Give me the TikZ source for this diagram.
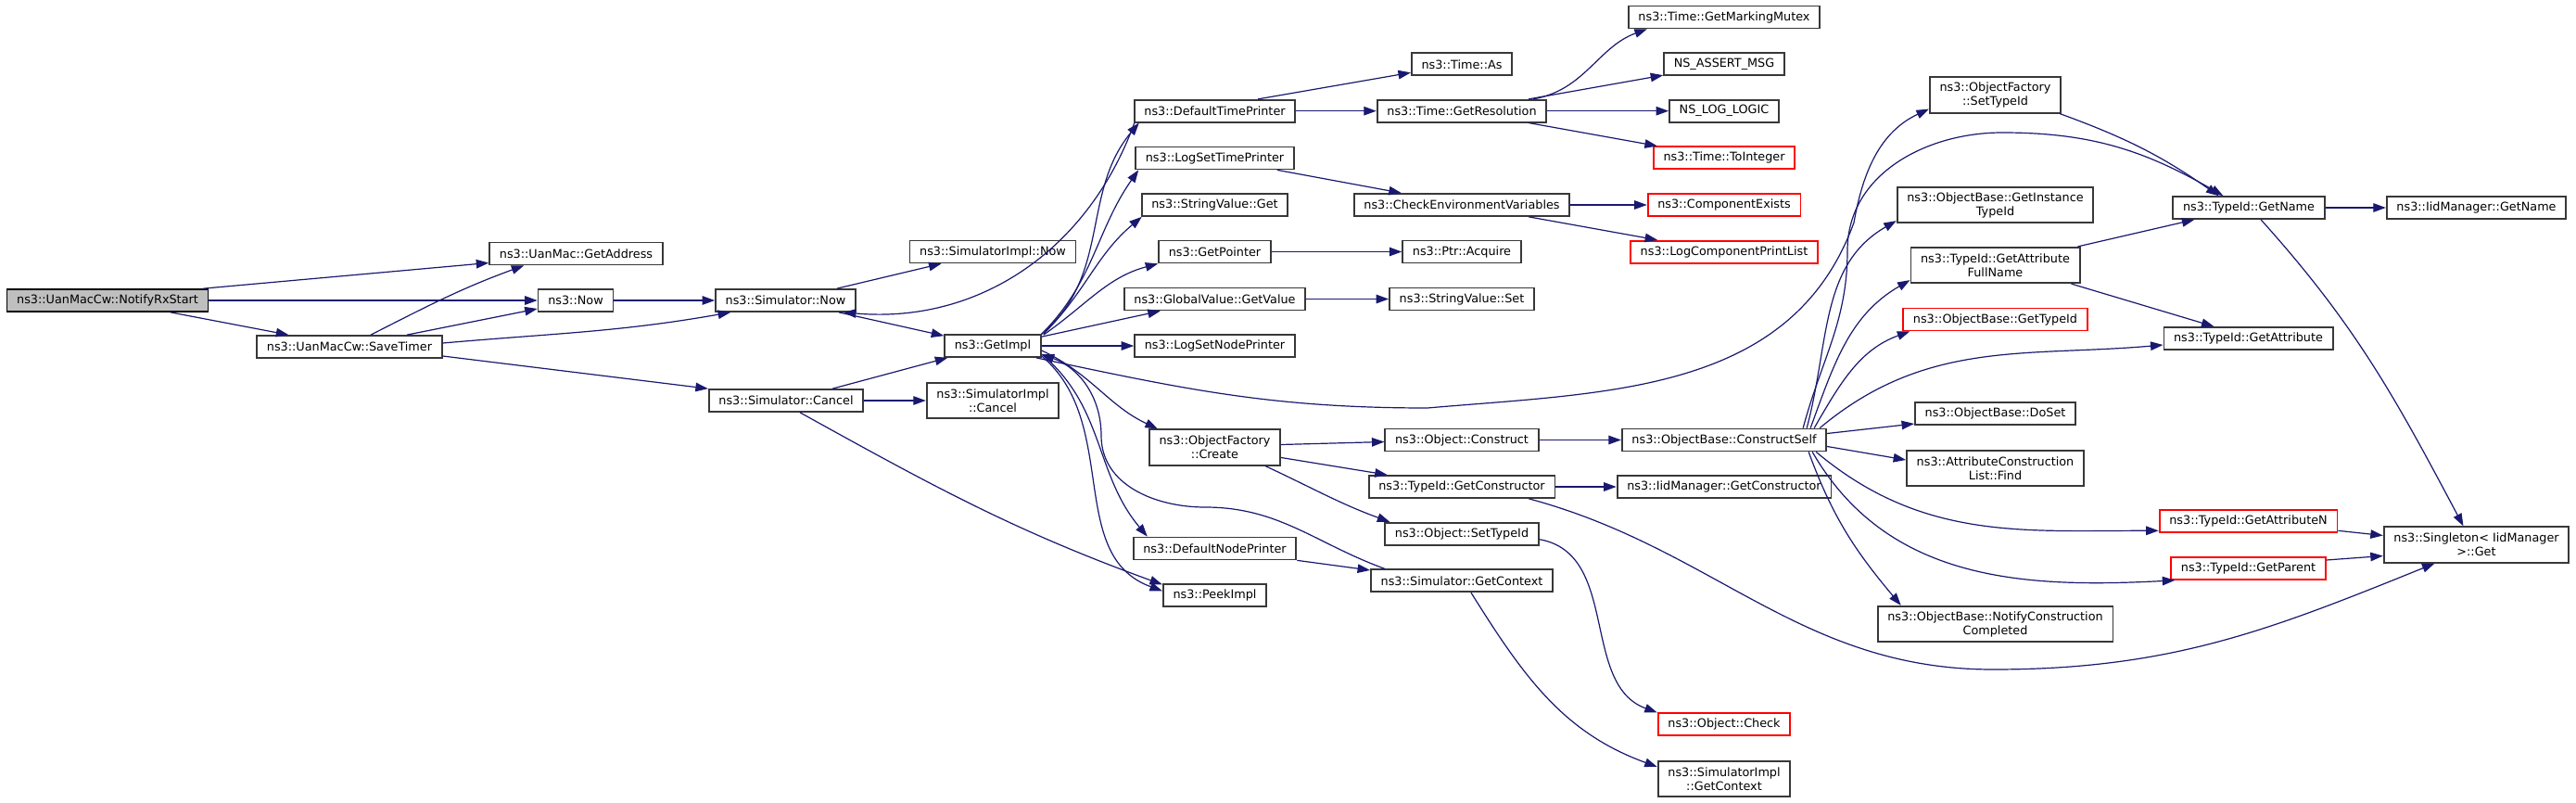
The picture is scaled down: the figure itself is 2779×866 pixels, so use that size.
\documentclass[tikz,border=0pt]{standalone}
\usepackage{fontspec}
\setmainfont{DejaVu Sans}
\usetikzlibrary{arrows.meta}
\definecolor{callblue}{HTML}{191970}
\definecolor{boxgray}{HTML}{383838}
\definecolor{rootgray}{HTML}{BFBFBF}
\definecolor{missred}{HTML}{FF0000}

\begin{document}
\begin{tikzpicture}[x=1pt,y=1pt,
  fn/.style={draw=boxgray,line width=1.8pt,fill=white,inner xsep=10.7pt,inner ysep=0pt,
    minimum height=23.9pt,font=\fontsize{12.8}{15}\selectfont},
  fntwo/.style={fn,align=center,minimum height=38.4pt},
  fnred/.style={fn,draw=missred},
  fnroot/.style={fn,draw=black,fill=rootgray},
  call/.style={draw=callblue,line width=1.2pt,-{Triangle[length=13.5pt,width=9.5pt]}}]
  \useasboundingbox[fill=white] (0,0) rectangle (2779,-866);

  % caller
  \node[fnroot] (nRx) at (116,-324) {ns3::UanMacCw::NotifyRxStart};
  \node[fn] (nSave) at (377,-374) {ns3::UanMacCw::SaveTimer};
  \node[fn] (nAddr) at (621.5,-273.5) {ns3::UanMac::GetAddress};
  \node[fn] (nNow) at (621,-324) {ns3::Now};

  % simulator
  \node[fn] (nSimNow) at (847.5,-324) {ns3::Simulator::Now};
  \node[fn] (nSimCancel) at (848,-432) {ns3::Simulator::Cancel};
  \node[fn] (nImplNow) at (1071,-271.5) {ns3::SimulatorImpl::Now};
  \node[fn] (nGetImpl) at (1071,-373) {ns3::GetImpl};
  \node[fntwo] (nImplCancel) at (1071,-432) {ns3::SimulatorImpl\\::Cancel};

  % callees of GetImpl
  \node[fn] (nDTP) at (1310.5,-119.7) {ns3::DefaultTimePrinter};
  \node[fn] (nLSTP) at (1310.5,-170.5) {ns3::LogSetTimePrinter};
  \node[fn] (nSVGet) at (1310.5,-221) {ns3::StringValue::Get};
  \node[fn] (nGetPtr) at (1310.5,-271.5) {ns3::GetPointer};
  \node[fn] (nGVGet) at (1310.5,-322.5) {ns3::GlobalValue::GetValue};
  \node[fn] (nLSNP) at (1310.5,-373) {ns3::LogSetNodePrinter};
  \node[fntwo] (nOFCreate) at (1310.5,-482.5) {ns3::ObjectFactory\\::Create};
  \node[fn] (nDNP) at (1310.5,-591.5) {ns3::DefaultNodePrinter};
  \node[fn] (nPeek) at (1310.5,-642.3) {ns3::PeekImpl};

  % next column
  \node[fn] (nTimeAs) at (1577,-69.3) {ns3::Time::As};
  \node[fn] (nGetRes) at (1577,-119.7) {ns3::Time::GetResolution};
  \node[fn] (nCEV) at (1577,-221) {ns3::CheckEnvironmentVariables};
  \node[fn] (nAcquire) at (1577,-271.5) {ns3::Ptr::Acquire};
  \node[fn] (nSVSet) at (1577,-322.5) {ns3::StringValue::Set};
  \node[fn] (nConstruct) at (1577,-474.5) {ns3::Object::Construct};
  \node[fn] (nGetCtor) at (1577,-525) {ns3::TypeId::GetConstructor};
  \node[fn] (nSetTid) at (1577,-575.7) {ns3::Object::SetTypeId};
  \node[fn] (nGetCtx) at (1577,-626.3) {ns3::Simulator::GetContext};

  \node[fn] (nMutex) at (1860,-18.5) {ns3::Time::GetMarkingMutex};
  \node[fn] (nAssert) at (1860,-69.3) {NS\_ASSERT\_MSG};
  \node[fn] (nLogic) at (1860,-119.7) {NS\_LOG\_LOGIC};
  \node[fnred] (nToInt) at (1860,-170.3) {ns3::Time::ToInteger};
  \node[fnred] (nCompEx) at (1860,-221) {ns3::ComponentExists};
  \node[fnred] (nLCPL) at (1860,-271.7) {ns3::LogComponentPrintList};
  \node[fn] (nCSelf) at (1860,-474.5) {ns3::ObjectBase::ConstructSelf};
  \node[fn] (nIidCtor) at (1860,-525) {ns3::IidManager::GetConstructor};
  \node[fnred] (nCheck) at (1860,-781.3) {ns3::Object::Check};
  \node[fntwo] (nImplCtx) at (1860,-840) {ns3::SimulatorImpl\\::GetContext};

  % type id
  \node[fntwo] (nOFSetTid) at (2152.5,-102.5) {ns3::ObjectFactory\\::SetTypeId};
  \node[fntwo] (nInstTid) at (2152.5,-221) {ns3::ObjectBase::GetInstance\\TypeId};
  \node[fntwo] (nAttrFull) at (2152.5,-286) {ns3::TypeId::GetAttribute\\FullName};
  \node[fnred] (nOBTid) at (2152.5,-344.5) {ns3::ObjectBase::GetTypeId};
  \node[fn] (nDoSet) at (2152.5,-446) {ns3::ObjectBase::DoSet};
  \node[fntwo] (nACLFind) at (2152.5,-505) {ns3::AttributeConstruction\\List::Find};
  \node[fntwo] (nNotify) at (2152.5,-673) {ns3::ObjectBase::NotifyConstruction\\Completed};

  \node[fn] (nGetName) at (2426,-224) {ns3::TypeId::GetName};
  \node[fn] (nGetAttr) at (2425.5,-365) {ns3::TypeId::GetAttribute};
  \node[fnred] (nGetAttrN) at (2425.5,-562.3) {ns3::TypeId::GetAttributeN};
  \node[fnred] (nGetParent) at (2425.5,-613) {ns3::TypeId::GetParent};
  \node[fn] (nIidName) at (2671.5,-224) {ns3::IidManager::GetName};
  \node[fntwo] (nSingleton) at (2671.5,-587.5) {ns3::Singleton< IidManager\\>::Get};

  % calls from NotifyRxStart and SaveTimer
  \draw[call] ([xshift=-6pt]nRx.north east) -- ([yshift=-10pt]nAddr.west);
  \draw[call] (nRx.east) -- (nNow.west);
  \draw[call] ([xshift=68pt]nRx.south) -- ([xshift=35pt]nSave.north west);
  \draw[call] ([xshift=23pt]nSave.north) to[out=27,in=200] ([xshift=38pt]nAddr.south west);
  \draw[call] ([xshift=62pt]nSave.north) -- ([yshift=-9pt]nNow.west);
  \draw[call] ([yshift=4pt]nSave.east) to[out=5,in=190] ([xshift=17pt]nSimNow.south west);
  \draw[call] ([yshift=-10pt]nSave.east) -- (nSimCancel.north west);
  \draw[call] (nNow.east) -- (nSimNow.west);

  % simulator calls
  \draw[call] ([xshift=-21pt]nSimNow.north east) -- ([xshift=35pt]nImplNow.south west);
  \draw[call] ([xshift=-19pt]nSimNow.south east) -- ([yshift=-2pt]nGetImpl.north west);
  \draw[call] ([xshift=-34pt]nSimCancel.north east) -- ([xshift=4pt]nGetImpl.south west);
  \draw[call] (nSimCancel.east) -- (nImplCancel.west);
  \draw[call] ([xshift=15pt]nSimCancel.south) to[out=-29,in=160] ([yshift=-1pt]nPeek.north west);

  % GetImpl
  \draw[call] (nGetImpl.north east) to[out=40,in=230] ([xshift=6pt]nDTP.south west);
  \draw[call] (nGetImpl.north east) to[out=45,in=235] ([xshift=4pt]nLSTP.south west);
  \draw[call] ([xshift=2pt]nGetImpl.north east) to[out=45,in=220] ([xshift=1pt]nSVGet.south west);
  \draw[call] ([xshift=2pt,yshift=-1pt]nGetImpl.north east) to[out=35,in=195] (nGetPtr.south west);
  \draw[call] ([yshift=-3pt]nGetImpl.north east) -- ([xshift=40pt]nGVGet.south west);
  \draw[call] (nGetImpl.east) -- (nLSNP.west);
  \draw[call] ([yshift=-5pt]nGetImpl.east) to[out=-25,in=155] ([xshift=10pt]nOFCreate.north west);
  \draw[call] ([yshift=-9pt]nGetImpl.east) to[out=-40,in=130] ([xshift=16pt]nDNP.north west);
  \draw[call] ([yshift=-11pt]nGetImpl.east) to[out=-40,in=160] ([yshift=5pt]nPeek.west);
  \draw[call] ([xshift=-6pt]nGetImpl.south east) to[out=-12,in=180] (1540,-440)
    to[out=5,in=-110] (2000,-240) to[out=80,in=205] ([yshift=5pt]nOFSetTid.south west);

  % printers, factory, context
  \draw[call] ([xshift=1pt]nDTP.south west) to[out=-110,in=-5] ([xshift=-14pt]nSimNow.south east);
  \draw[call] ([xshift=-41pt]nDTP.north east) -- ([yshift=-9pt]nTimeAs.west);
  \draw[call] (nDTP.east) -- (nGetRes.west);
  \draw[call] ([xshift=-19pt]nLSTP.south east) -- ([xshift=52pt]nCEV.north west);
  \draw[call] (nGetPtr.east) -- (nAcquire.west);
  \draw[call] (nGVGet.east) -- (nSVSet.west);
  \draw[call] ([yshift=3pt]nOFCreate.east) -- ([yshift=-2pt]nConstruct.west);
  \draw[call] ([yshift=-11pt]nOFCreate.east) -- ([xshift=21pt]nGetCtor.north west);
  \draw[call] ([xshift=-17pt]nOFCreate.south east) to[out=-25,in=160] ([xshift=6pt]nSetTid.north west);
  \draw[call] (nDNP.south east) -- ([yshift=-1.5pt]nGetCtx.north west);
  \draw[call] ([xshift=16pt]nGetCtx.north west) to[out=160,in=0] (1300,-547)
    to[out=180,in=-90] (1188,-470) to[out=90,in=-20] ([yshift=-9pt]nGetImpl.east);

  % time and log
  \draw[call] ([xshift=-15pt]nGetRes.north east) to[out=10,in=200] ([xshift=21pt]nMutex.south west);
  \draw[call] ([xshift=-20pt]nGetRes.north east) -- ([yshift=1pt]nAssert.south west);
  \draw[call] (nGetRes.east) -- (nLogic.west);
  \draw[call] ([xshift=-20pt]nGetRes.south east) -- ([xshift=5pt]nToInt.north west);
  \draw[call] (nCEV.east) -- (nCompEx.west);
  \draw[call] ([xshift=-45pt]nCEV.south east) -- ([xshift=30pt]nLCPL.north west);

  % object construction
  \draw[call] (nConstruct.east) -- (nCSelf.west);
  \draw[call] (nGetCtor.east) -- (nIidCtor.west);
  \draw[call] ([yshift=-6pt]nSetTid.east) to[out=-10,in=160] (nCheck.north west);
  \draw[call] ([xshift=10pt]nGetCtx.south) to[out=-58,in=160] ([yshift=13pt]nImplCtx.west);
  \draw[call] ([xshift=-29pt]nGetCtor.south east) to[out=-15,in=180] (2150,-722)
    to[out=0,in=-158] ([xshift=-45pt]nSingleton.south);

  % ConstructSelf
  \draw[call] ([xshift=-26pt]nCSelf.north east) to[out=75,in=-90] (1993,-270)
    to[out=90,in=180] (2160,-143) to[out=0,in=150] ([xshift=55pt]nGetName.north west);
  \draw[call] ([xshift=-22pt]nCSelf.north east) to[out=75,in=210] ([yshift=3pt]nInstTid.south west);
  \draw[call] ([xshift=-18pt]nCSelf.north east) to[out=70,in=210] ([yshift=4pt]nAttrFull.south west);
  \draw[call] ([xshift=-14pt]nCSelf.north east) to[out=60,in=200] ([xshift=8pt]nOBTid.south west);
  \draw[call] ([xshift=-8pt]nCSelf.north east) to[out=40,in=185] ([yshift=-7pt]nGetAttr.west);
  \draw[call] ([yshift=7pt]nCSelf.east) -- ([yshift=-11pt]nDoSet.west);
  \draw[call] ([yshift=-7pt]nCSelf.east) -- ([yshift=9pt]nACLFind.west);
  \draw[call] ([xshift=-12pt]nCSelf.south east) to[out=-40,in=180] ([yshift=-10pt]nGetAttrN.west);
  \draw[call] ([xshift=-16pt]nCSelf.south east) to[out=-60,in=183] ([xshift=5pt]nGetParent.south west);
  \draw[call] ([xshift=-20pt]nCSelf.south east) to[out=-70,in=130] ([xshift=26pt]nNotify.north west);

  % type id lookups
  \draw[call] ([xshift=-2pt]nOFSetTid.south east) to[out=-20,in=145] ([xshift=50pt]nGetName.north west);
  \draw[call] ([xshift=-3pt]nAttrFull.north east) -- ([xshift=24pt]nGetName.south west);
  \draw[call] ([xshift=-10pt]nAttrFull.south east) -- ([xshift=55pt]nGetAttr.north west);
  \draw[call] (nGetName.east) -- (nIidName.west);
  \draw[call] ([xshift=13pt]nGetName.south) to[out=-48,in=118] ([xshift=-14pt]nSingleton.north);
  \draw[call] ([yshift=-10pt]nGetAttrN.east) -- ([yshift=10pt]nSingleton.west);
  \draw[call] ([yshift=9pt]nGetParent.east) -- ([yshift=-12pt]nSingleton.west);
\end{tikzpicture}
\end{document}
